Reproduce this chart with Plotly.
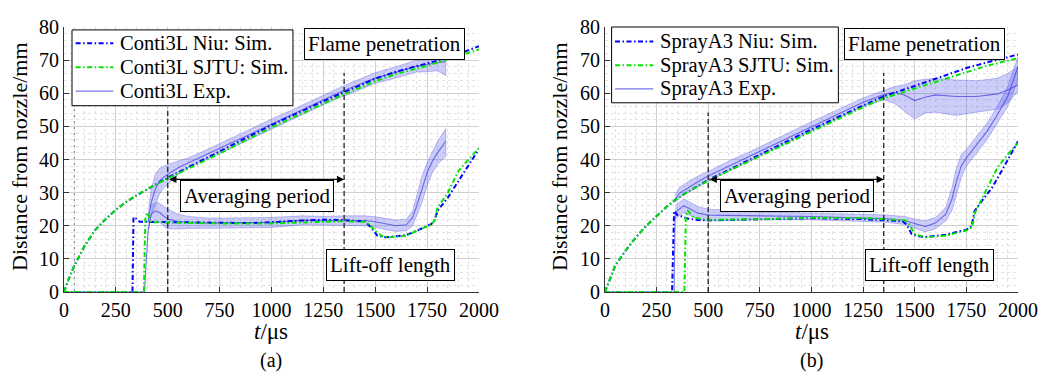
import plotly.graph_objects as go

# ---------------- data: panel (a) Conti3L ----------------
t_pen_sim_a = [0, 20, 50, 100, 150, 200, 250, 300, 350, 400, 450, 500, 750, 1000, 1250, 1350, 1500, 1600, 1750, 1850, 2000]
pen_niu_a = [0, 3.5, 8, 14, 18.7, 22, 24.8, 27.2, 29.2, 31.1, 32.8, 34.5, 42.4, 50.4, 57.6, 60.4, 64.4, 66.5, 69, 70.7, 74.2]
pen_sjtu_a = [0, 3.5, 8, 14, 18.7, 22, 24.8, 27.2, 29.2, 31.1, 32.7, 34.2, 41.8, 49.7, 56.9, 59.7, 63.6, 65.8, 68.3, 70.2, 73.2]

t_lift_niu_a = [0, 330, 335, 345, 365, 500, 750, 900, 1100, 1250, 1350, 1450, 1480, 1510, 1550, 1650, 1700, 1770, 1785, 1800, 1850, 1900, 1950, 2000]
lift_niu_a = [0, 0, 22.6, 22.3, 21.2, 21.1, 20.9, 20.8, 21.4, 21.8, 21.7, 21.3, 19.5, 17, 16.5, 17.2, 18.5, 20.5, 21.5, 24.5, 28.5, 33.5, 38.5, 43.2]
t_lift_sjtu_a = [0, 385, 392, 400, 420, 500, 750, 1000, 1250, 1350, 1450, 1470, 1500, 1530, 1560, 1650, 1700, 1770, 1785, 1800, 1850, 1900, 1950, 2000]
lift_sjtu_a = [0, 0, 22, 24, 21.1, 21, 20.7, 20.7, 21.3, 21.4, 21.2, 20.5, 18.5, 17, 16.5, 17, 18.5, 20.3, 21.5, 25.5, 30, 36.5, 40, 43.5]

t_pen_exp_a = [405, 420, 440, 460, 480, 500, 550, 600, 700, 800, 900, 1000, 1100, 1200, 1300, 1350, 1400, 1500, 1600, 1700, 1750, 1800, 1840]
pen_exp_a = [21, 27, 31, 33.5, 34.7, 35.5, 37.5, 39, 41.8, 44.8, 47.7, 50.7, 53.5, 56.5, 59.5, 60.8, 62, 64.6, 66.3, 68.2, 68.7, 69.3, 69.5]
pen_exp_hi_a = [23, 31, 35.5, 37.3, 38, 38.5, 39.5, 40.5, 43.3, 46.3, 49.2, 52.2, 55, 58, 61, 62.3, 63.6, 66.2, 68, 70, 70.6, 71.2, 71.5]
pen_exp_lo_a = [19, 23, 26.5, 29.5, 31.4, 32.5, 35.5, 37.5, 40.3, 43.3, 46.2, 49.2, 52, 55, 58, 59.3, 60.4, 63, 64.6, 66.4, 66.5, 66.8, 65.3]

t_lift_exp_a = [0, 388, 395, 405, 420, 440, 460, 480, 500, 550, 600, 700, 800, 900, 1000, 1100, 1150, 1250, 1350, 1450, 1500, 1550, 1600, 1650, 1680, 1700, 1725, 1750, 1775, 1800, 1840]
lift_exp_a = [0, 0, 8, 18, 23.5, 24.5, 24, 23, 22, 21.3, 21, 20.8, 20.8, 20.9, 21, 21.4, 21.7, 21.5, 21.5, 21.6, 21.2, 20.5, 20, 20.3, 22.5, 26, 31, 36, 39.5, 42, 45.5]
t_lift_band_a = [420, 440, 460, 480, 500, 550, 600, 700, 800, 1000, 1150, 1250, 1350, 1450, 1500, 1550, 1600, 1650, 1680, 1700, 1725, 1750, 1775, 1800, 1840]
lift_exp_hi_a = [26, 27, 26.8, 26, 25, 23.5, 22.8, 22.3, 22.3, 22.5, 23, 22.8, 23, 23, 22.7, 22.2, 21.7, 22, 24.5, 29, 35, 39, 42.5, 45.5, 49.3]
lift_exp_lo_a = [21, 21.5, 21, 20, 19, 19, 19.2, 19.3, 19.3, 19.5, 20.3, 20.2, 20, 20, 19.6, 18.8, 18.3, 18.5, 20, 23, 27, 32, 36, 38.5, 41]

# ---------------- data: panel (b) SprayA3 ----------------
t_pen_sim_b = [0, 10, 50, 100, 150, 200, 250, 300, 340, 400, 500, 750, 1000, 1250, 1350, 1500, 1600, 1750, 1850, 2000]
pen_niu_b = [0, 1.5, 8, 12.5, 16.5, 20, 23, 25.8, 27.8, 30.2, 33.8, 41.4, 49.1, 56.3, 59.1, 62.2, 64.3, 67.6, 69.3, 71.7]
pen_sjtu_b = [0, 1.5, 8, 12.5, 16.5, 20, 23, 25.8, 27.8, 30.2, 33.6, 41, 48.6, 55.8, 58.5, 61.4, 63.5, 66.3, 68.3, 70.6]

t_lift_niu_b = [0, 325, 335, 350, 400, 450, 500, 750, 1000, 1250, 1350, 1440, 1460, 1485, 1520, 1550, 1650, 1750, 1775, 1790, 1825, 1875, 1925, 1960, 2000]
lift_niu_b = [0, 0, 24.5, 23.3, 22.2, 21.7, 21.6, 22, 22.3, 22, 21.8, 21.4, 20.4, 17.5, 16.8, 16.6, 17.3, 18.8, 19.8, 24.5, 27.5, 31.5, 37, 41, 45.5]
t_lift_sjtu_b = [0, 385, 392, 400, 432, 500, 750, 1000, 1250, 1350, 1450, 1474, 1500, 1550, 1650, 1750, 1778, 1792, 1850, 1900, 1950, 2000]
lift_sjtu_b = [0, 0, 23, 24.6, 22.4, 21.8, 22, 22.4, 22.3, 22, 21.7, 20.4, 17.5, 16.5, 17, 18.6, 19.6, 24, 31.5, 37.5, 41.5, 45]

t_pen_exp_b = [340, 360, 400, 450, 500, 600, 750, 1000, 1250, 1350, 1400, 1450, 1500, 1550, 1600, 1700, 1800, 1900, 1950, 2000]
pen_exp_b = [28, 29.8, 31.3, 33.3, 35, 38, 42.4, 50, 57.3, 59.6, 60.3, 59.5, 57.8, 58.8, 59.5, 59, 59, 59.8, 61, 62.5]
pen_exp_hi_b = [29.3, 31.5, 33.2, 35, 36.4, 39.5, 43.8, 51.4, 58.6, 61, 62, 62.6, 63.8, 64.2, 64.5, 64, 63.8, 64.5, 66, 68]
pen_exp_lo_b = [27, 28.5, 29.8, 31.7, 33.5, 36.6, 41, 48.6, 56, 58, 57, 54.5, 52.2, 54, 54.3, 53.3, 54.3, 55.2, 57, 60.5]

t_lift_exp_b = [0, 335, 340, 360, 380, 400, 450, 500, 750, 1000, 1250, 1350, 1450, 1500, 1550, 1600, 1650, 1680, 1700, 1725, 1750, 1800, 1850, 1900, 1950, 2000]
lift_exp_b = [0, 0, 24, 25, 26, 25.5, 23.8, 23.2, 23, 22.8, 22.3, 22.2, 21.6, 20.6, 19.8, 20.8, 23.5, 28, 33, 38, 40.5, 44.5, 48.5, 53.5, 59, 68]
t_lift_band_b = [340, 360, 380, 400, 450, 500, 750, 1000, 1250, 1350, 1450, 1500, 1550, 1600, 1650, 1680, 1700, 1725, 1750, 1800, 1850, 1900, 1950, 2000]
lift_exp_hi_b = [26, 27, 28, 27.5, 25.8, 25, 24.2, 23.8, 23.4, 23.3, 22.8, 22, 21.5, 22.5, 25.5, 31.5, 37, 41.5, 43, 47, 51, 56, 62, 71]
lift_exp_lo_b = [22, 23, 24, 23.5, 22, 21.5, 21.8, 21.8, 21.3, 21.1, 20.4, 19.2, 18.2, 19, 21.5, 24.5, 29, 34.5, 38, 42, 46, 51, 56, 64]

# ---------------- labels ----------------
names_a = ["Conti3L Niu: Sim.", "Conti3L SJTU: Sim.", "Conti3L Exp."]
names_b = ["SprayA3 Niu: Sim.", "SprayA3 SJTU: Sim.", "SprayA3 Exp."]
x_ticks = [0, 250, 500, 750, 1000, 1250, 1500, 1750, 2000]
y_ticks = [0, 10, 20, 30, 40, 50, 60, 70, 80]
averaging_period = [500, 1350]
arrow_level = 34
dash_top_a = [55.6, 66.2]
dash_top_b = [54.2, 66.2]
injection_marker_a = 50
label_pen = "Flame penetration"
label_avg = "Averaging period"
label_lift = "Lift-off length"
pos_pen = (1545, 75)
pos_avg = (932, 28.9)
pos_lift = (1572, 8.1)

FONT = "Times New Roman, Liberation Serif, Tinos, DejaVu Serif, serif"
BLUE = "#0000ff"
GREEN = "#00e600"
BAND_FILL = "rgba(90,90,235,0.30)"
BAND_EDGE = "rgba(70,70,220,0.40)"
EXP_LINE = "rgba(60,60,225,0.7)"
DASH = "5px,2.5px,1.5px,2.5px"

fig = go.Figure()


def add_panel(xa, ya, names,
              t_ps, p_niu, p_sjtu, t_ln, l_niu, t_ls, l_sjtu,
              t_pe, p_e, p_hi, p_lo, t_le, l_e, t_lb, l_hi, l_lo):
    # bands
    for tb, hi, lo in [(t_pe, p_hi, p_lo), (t_lb, l_hi, l_lo)]:
        fig.add_trace(go.Scatter(
            x=list(tb) + list(tb)[::-1], y=list(hi) + list(lo)[::-1],
            fill="toself", fillcolor=BAND_FILL, mode="lines",
            line=dict(color=BAND_EDGE, width=0.8),
            xaxis=xa, yaxis=ya, showlegend=False, hoverinfo="skip"))
    # experimental mean lines
    fig.add_trace(go.Scatter(x=t_pe, y=p_e, mode="lines", name=names[2],
                             line=dict(color=EXP_LINE, width=1.1),
                             xaxis=xa, yaxis=ya, showlegend=False))
    fig.add_trace(go.Scatter(x=t_le, y=l_e, mode="lines", name=names[2],
                             line=dict(color=EXP_LINE, width=1.1),
                             xaxis=xa, yaxis=ya, showlegend=False))
    # sims: Niu first, SJTU on top
    fig.add_trace(go.Scatter(x=t_ps, y=p_niu, mode="lines", name=names[0],
                             line=dict(color=BLUE, width=2, dash=DASH),
                             xaxis=xa, yaxis=ya, showlegend=False))
    fig.add_trace(go.Scatter(x=t_ln, y=l_niu, mode="lines", name=names[0],
                             line=dict(color=BLUE, width=2, dash=DASH),
                             xaxis=xa, yaxis=ya, showlegend=False))
    fig.add_trace(go.Scatter(x=t_ps, y=p_sjtu, mode="lines", name=names[1],
                             line=dict(color=GREEN, width=2, dash=DASH),
                             xaxis=xa, yaxis=ya, showlegend=False))
    fig.add_trace(go.Scatter(x=t_ls, y=l_sjtu, mode="lines", name=names[1],
                             line=dict(color=GREEN, width=2, dash=DASH),
                             xaxis=xa, yaxis=ya, showlegend=False))


add_panel("x", "y", names_a,
          t_pen_sim_a, pen_niu_a, pen_sjtu_a, t_lift_niu_a, lift_niu_a, t_lift_sjtu_a, lift_sjtu_a,
          t_pen_exp_a, pen_exp_a, pen_exp_hi_a, pen_exp_lo_a,
          t_lift_exp_a, lift_exp_a, t_lift_band_a, lift_exp_hi_a, lift_exp_lo_a)
add_panel("x2", "y2", names_b,
          t_pen_sim_b, pen_niu_b, pen_sjtu_b, t_lift_niu_b, lift_niu_b, t_lift_sjtu_b, lift_sjtu_b,
          t_pen_exp_b, pen_exp_b, pen_exp_hi_b, pen_exp_lo_b,
          t_lift_exp_b, lift_exp_b, t_lift_band_b, lift_exp_hi_b, lift_exp_lo_b)

tickfont = dict(family=FONT, size=20, color="black")


def xax(domain, anchor):
    return dict(domain=domain, anchor=anchor, range=[0, 2000], tickvals=x_ticks,
                ticks="inside", ticklen=5, tickcolor="#333", showline=True, linecolor="#333",
                linewidth=1, mirror=False, zeroline=False, showgrid=True, gridcolor="#d0d0d0",
                gridwidth=1, tickfont=tickfont, ticklabeloverflow="allow",
                minor=dict(dtick=50, showgrid=True, griddash="dot", gridcolor="#e2e2e2", gridwidth=1))


def yax(anchor):
    return dict(anchor=anchor, range=[0, 80], tickvals=y_ticks,
                ticks="inside", ticklen=5, tickcolor="#333", showline=True, linecolor="#333",
                linewidth=1, mirror=False, zeroline=False, showgrid=True, gridcolor="#d0d0d0",
                gridwidth=1, tickfont=tickfont, ticklabeloverflow="allow",
                minor=dict(dtick=2, showgrid=True, griddash="dot", gridcolor="#e2e2e2", gridwidth=1))


# the page body adds an 8px offset; the figure is sized to fit the window
fig.update_layout(
    width=1038, height=370,
    margin=dict(l=56, r=28, t=8, b=86),
    paper_bgcolor="white", plot_bgcolor="white",
    xaxis=xax([0.0, 0.435], "y"), yaxis=yax("x"),
    xaxis2=xax([0.567, 1.0], "y2"), yaxis2=yax("x2"),
    showlegend=False,
    font=dict(family=FONT, color="black"),
)

shapes = []
for xr, yr, tops in [("x", "y", dash_top_a), ("x2", "y2", dash_top_b)]:
    for xv, top in zip(averaging_period, tops):
        shapes.append(dict(type="line", xref=xr, yref=yr, x0=xv, x1=xv, y0=0, y1=top,
                           line=dict(color="#222", width=1.3, dash="5px,3px"), layer="above"))
shapes.append(dict(type="line", xref="x", yref="y", x0=injection_marker_a, x1=injection_marker_a,
                   y0=0, y1=80, line=dict(color="#777", width=1, dash="dot"), layer="below"))

annots = []
# legend boxes (paper coordinates relative to the plotting area)
legend_specs = [
    dict(box=(0.0084, 0.240, 0.703, 0.989), line=(0.0122, 0.0517), text_x=0.0566,
         rows=(0.9384, 0.8482, 0.7580), names=names_a),
    dict(box=(0.574, 0.8117, 0.714, 1.0), line=(0.5776, 0.6177), text_x=0.623,
         rows=(0.9457, 0.8560, 0.7663), names=names_b),
]
leg_styles = [dict(color=BLUE, width=2, dash=DASH), dict(color=GREEN, width=2, dash=DASH),
              dict(color=EXP_LINE, width=1.3)]
for spec in legend_specs:
    x0, x1, y0, y1 = spec["box"]
    shapes.append(dict(type="rect", xref="paper", yref="paper", x0=x0, x1=x1, y0=y0, y1=y1,
                       fillcolor="white", line=dict(color="black", width=1), layer="above"))
    for name, ry, st in zip(spec["names"], spec["rows"], leg_styles):
        shapes.append(dict(type="line", xref="paper", yref="paper", x0=spec["line"][0],
                           x1=spec["line"][1], y0=ry, y1=ry, line=st, layer="above"))
        annots.append(dict(x=spec["text_x"], y=ry, xref="paper", yref="paper", text=name,
                           showarrow=False, xanchor="left", yanchor="middle",
                           font=dict(family=FONT, size=20.5, color="black")))
fig.update_layout(shapes=shapes)

boxfont = dict(family=FONT, size=21, color="black")
for xr, yr in [("x", "y"), ("x2", "y2")]:
    annots.append(dict(x=averaging_period[1], y=arrow_level, ax=averaging_period[0], ay=arrow_level,
                       xref=xr, yref=yr, axref=xr, ayref=yr, text="", showarrow=True,
                       arrowhead=2, arrowside="end+start", arrowsize=1.2, arrowwidth=1.2,
                       arrowcolor="black"))
    for txt, (px, py) in [(label_pen, pos_pen), (label_avg, pos_avg), (label_lift, pos_lift)]:
        annots.append(dict(x=px, y=py, xref=xr, yref=yr, text=txt, showarrow=False,
                           font=boxfont, bgcolor="white", bordercolor="black", borderwidth=1,
                           borderpad=3))
# axis titles and panel labels
for cx, lab in [(0.2175, "(a)"), (0.7836, "(b)")]:
    annots.append(dict(x=cx, y=-0.148, xref="paper", yref="paper", text="<i>t</i>/μs",
                       showarrow=False, font=dict(family=FONT, size=23, color="black"),
                       xanchor="center", yanchor="middle"))
    annots.append(dict(x=cx, y=-0.257, xref="paper", yref="paper", text=lab,
                       showarrow=False, font=dict(family=FONT, size=20, color="black"),
                       xanchor="center", yanchor="middle"))
for cx in [-0.046, 0.52]:
    annots.append(dict(x=cx, y=0.51, xref="paper", yref="paper", text="Distance from nozzle/mm",
                       showarrow=False, textangle=-90,
                       font=dict(family=FONT, size=22, color="black"),
                       xanchor="center", yanchor="middle"))
fig.update_layout(annotations=annots)

fig.write_html("out.html")
